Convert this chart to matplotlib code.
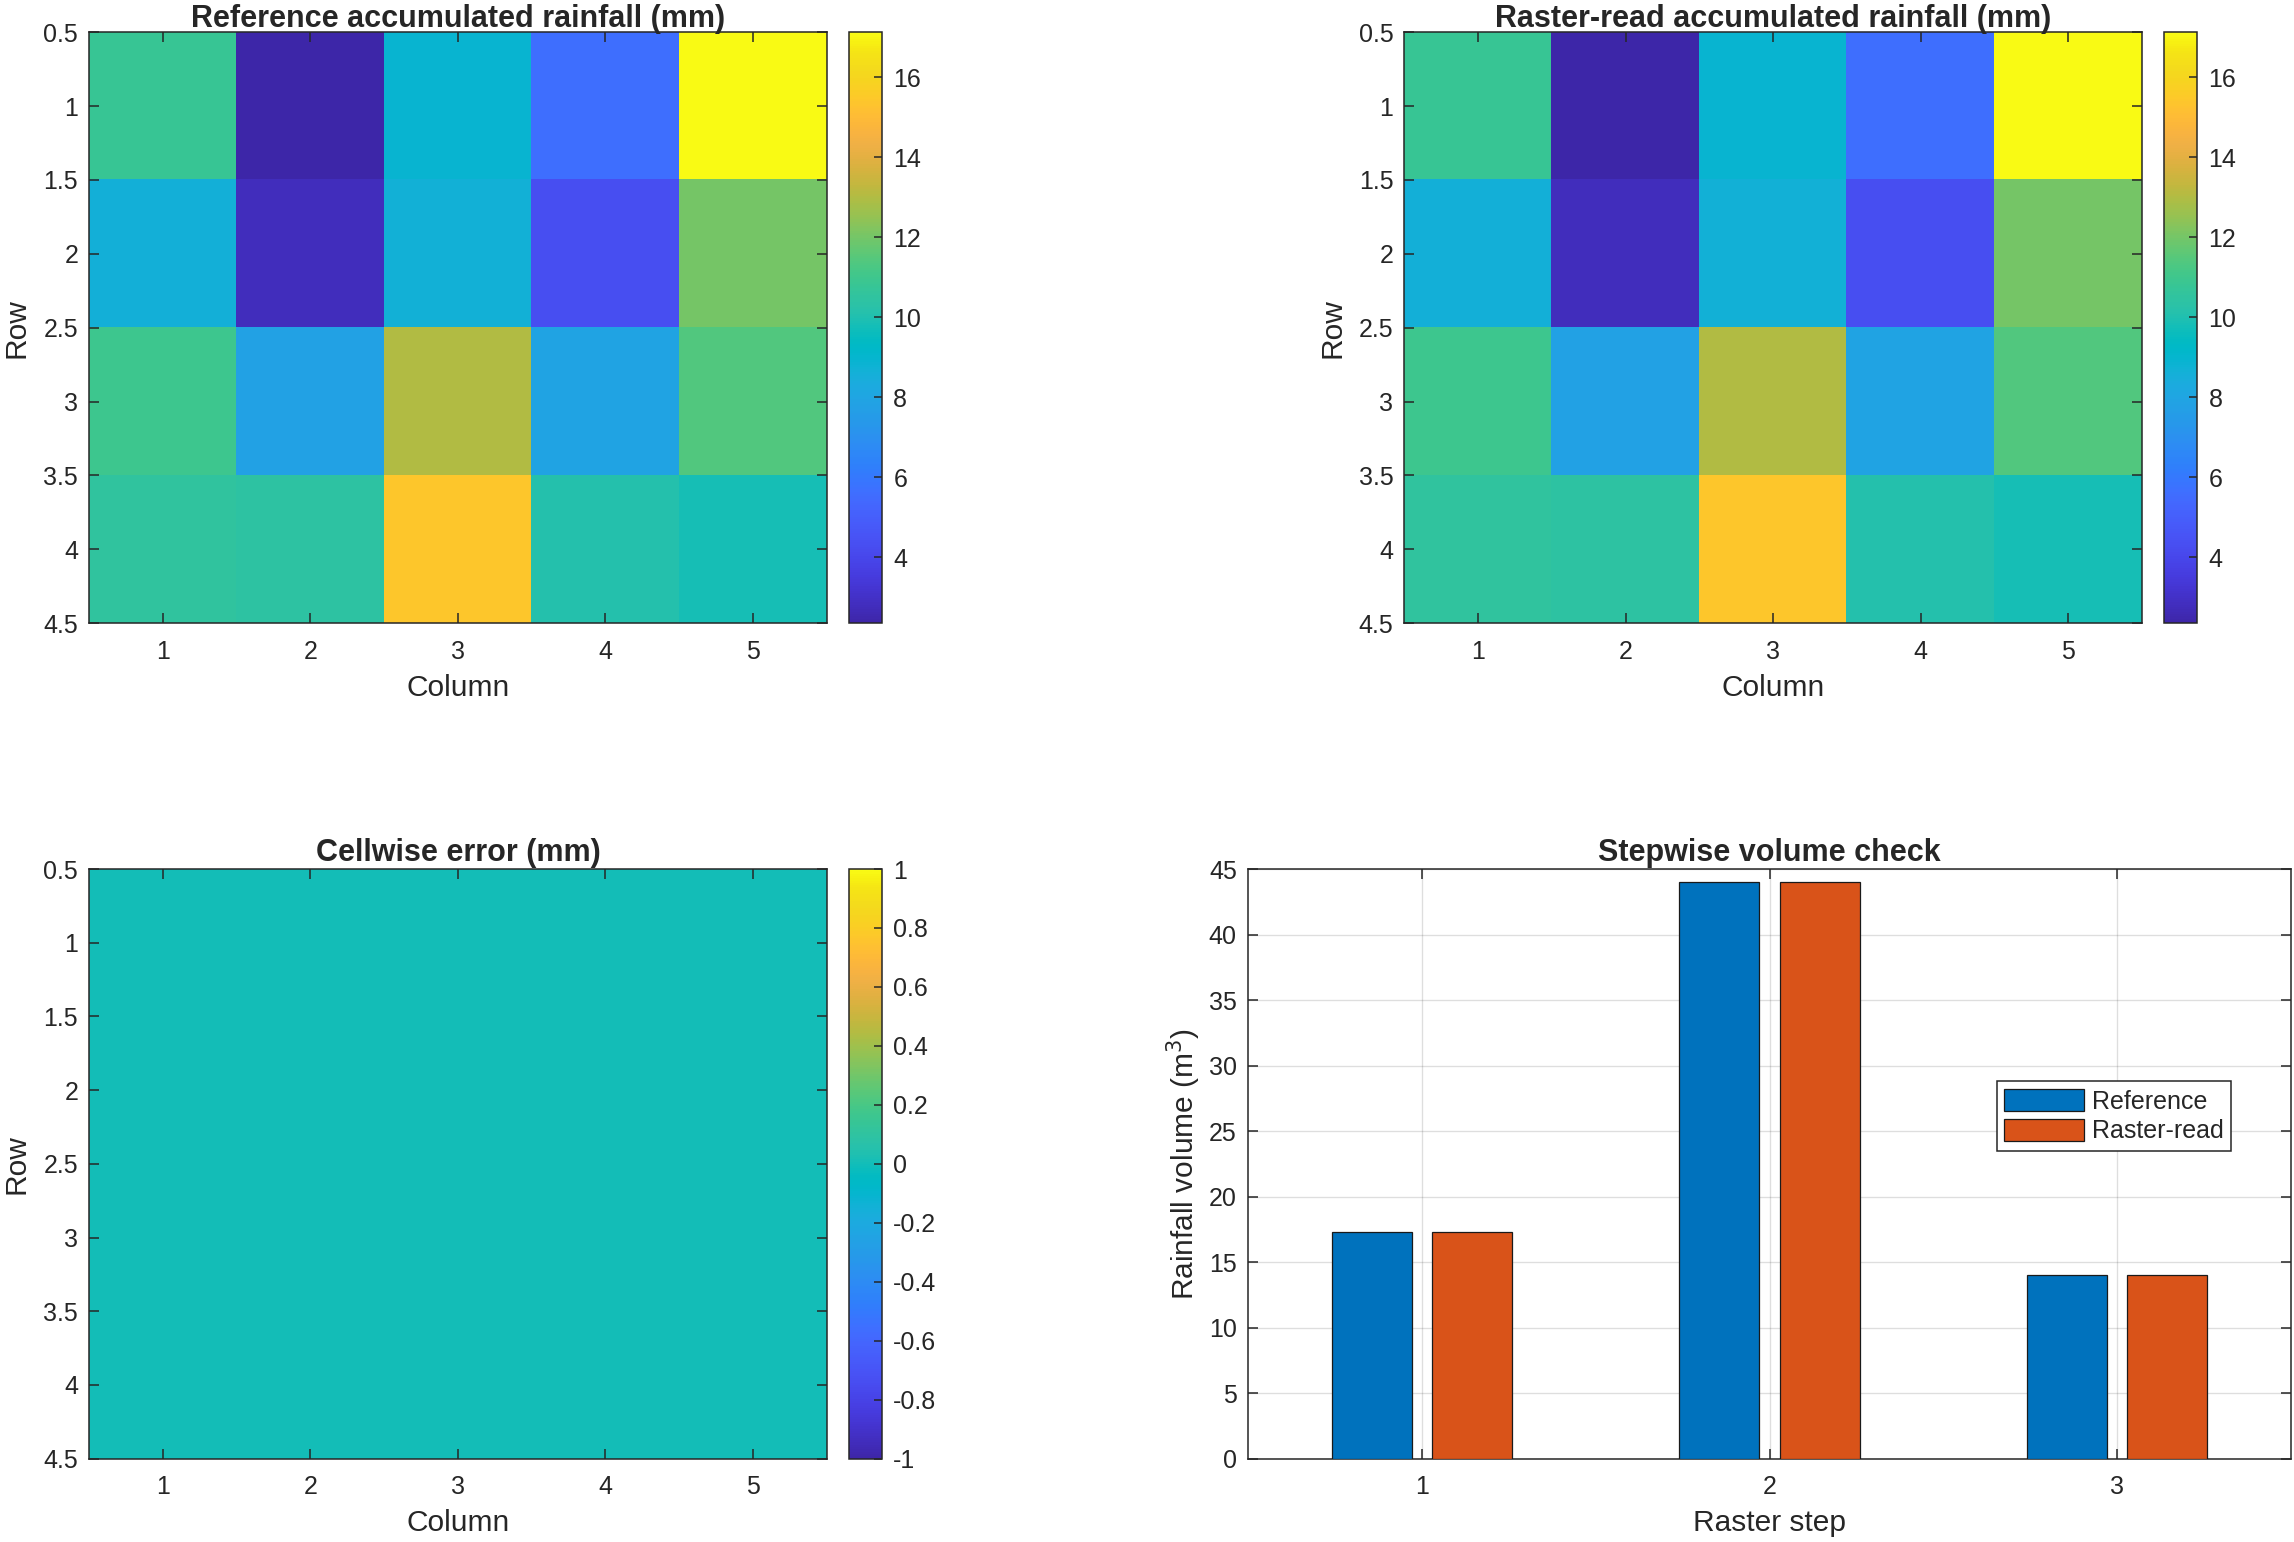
import numpy as np
import matplotlib
matplotlib.use("Agg")
import matplotlib.pyplot as plt
from matplotlib.colors import LinearSegmentedColormap

# ---------------- data ----------------
reference_rain = [
    [10.8, 2.35, 8.9, 5.6, 17.13],
    [8.6, 2.8, 8.7, 4.35, 12.0],
    [11.0, 7.8, 13.0, 7.9, 11.4],
    [10.5, 10.4, 15.4, 10.1, 9.85],
]
raster_rain = [
    [10.8, 2.35, 8.9, 5.6, 17.13],
    [8.6, 2.8, 8.7, 4.35, 12.0],
    [11.0, 7.8, 13.0, 7.9, 11.4],
    [10.5, 10.4, 15.4, 10.1, 9.85],
]
cell_error = [
    [0, 0, 0, 0, 0],
    [0, 0, 0, 0, 0],
    [0, 0, 0, 0, 0],
    [0, 0, 0, 0, 0],
]
steps = [1, 2, 3]
vol_reference = [17.3, 44.0, 14.0]
vol_raster = [17.3, 44.0, 14.0]
series_names = ["Reference", "Raster-read"]

# ---------------- parula colormap ----------------
parula_data = [
    [0.2422, 0.1504, 0.6603], [0.2504, 0.1650, 0.7076], [0.2578, 0.1818, 0.7511],
    [0.2647, 0.1978, 0.7952], [0.2706, 0.2147, 0.8364], [0.2751, 0.2342, 0.8710],
    [0.2783, 0.2559, 0.8991], [0.2803, 0.2782, 0.9221], [0.2813, 0.3006, 0.9414],
    [0.2810, 0.3228, 0.9579], [0.2795, 0.3447, 0.9717], [0.2760, 0.3667, 0.9829],
    [0.2699, 0.3892, 0.9906], [0.2602, 0.4123, 0.9952], [0.2440, 0.4358, 0.9988],
    [0.2206, 0.4603, 0.9973], [0.1963, 0.4847, 0.9892], [0.1834, 0.5074, 0.9798],
    [0.1786, 0.5289, 0.9682], [0.1764, 0.5499, 0.9520], [0.1687, 0.5703, 0.9359],
    [0.1540, 0.5902, 0.9218], [0.1460, 0.6091, 0.9079], [0.1380, 0.6276, 0.8973],
    [0.1248, 0.6459, 0.8883], [0.1113, 0.6635, 0.8763], [0.0952, 0.6798, 0.8598],
    [0.0689, 0.6948, 0.8394], [0.0297, 0.7082, 0.8163], [0.0036, 0.7199, 0.7917],
    [0.0067, 0.7300, 0.7655], [0.0433, 0.7394, 0.7384], [0.0964, 0.7475, 0.7097],
    [0.1408, 0.7543, 0.6795], [0.1717, 0.7607, 0.6489], [0.1938, 0.7673, 0.6174],
    [0.2161, 0.7736, 0.5843], [0.2470, 0.7791, 0.5507], [0.2906, 0.7833, 0.5163],
    [0.3406, 0.7843, 0.4813], [0.3909, 0.7819, 0.4470], [0.4456, 0.7768, 0.4123],
    [0.5044, 0.7711, 0.3760], [0.5616, 0.7647, 0.3386], [0.6174, 0.7556, 0.3037],
    [0.6720, 0.7434, 0.2742], [0.7242, 0.7290, 0.2551], [0.7738, 0.7152, 0.2463],
    [0.8203, 0.7032, 0.2464], [0.8634, 0.6941, 0.2522], [0.9024, 0.6893, 0.2615],
    [0.9359, 0.6910, 0.2705], [0.9646, 0.6968, 0.2587], [0.9831, 0.7120, 0.2359],
    [0.9952, 0.7328, 0.2133], [0.9966, 0.7586, 0.1907], [0.9919, 0.7845, 0.1655],
    [0.9800, 0.8087, 0.1409], [0.9666, 0.8317, 0.1241], [0.9575, 0.8529, 0.1127],
    [0.9596, 0.8740, 0.0993], [0.9617, 0.8951, 0.0824], [0.9690, 0.9390, 0.0700],
    [0.9769, 0.9839, 0.0805],
]
parula = LinearSegmentedColormap.from_list("parula", parula_data, N=256)

plt.rcParams['font.family'] = ['Liberation Sans', 'DejaVu Sans']
TXT = (0.15, 0.15, 0.15)
plt.rcParams['text.color'] = TXT
plt.rcParams['axes.edgecolor'] = TXT
plt.rcParams['xtick.color'] = TXT
plt.rcParams['ytick.color'] = TXT
plt.rcParams['axes.labelcolor'] = TXT

W, H = 2294, 1542
fig = plt.figure(figsize=(W / 100, H / 100), dpi=100)

TICK_FS = 18
LAB_FS = 21.5
TITLE_FS = 22


def style_axes(ax):
    ax.tick_params(direction='in', top=True, right=True, length=7, width=1.1,
                   labelsize=TICK_FS)
    ax.tick_params(axis='x', pad=12)
    ax.tick_params(axis='y', pad=8)
    for s in ax.spines.values():
        s.set_linewidth(1.1)


def heat(ax_rect, cb_rect, data, title, clim, cticks, ctlabels, tpad):
    ax = fig.add_axes(ax_rect)
    arr = np.array(data, dtype=float)
    im = ax.imshow(arr, cmap=parula, vmin=clim[0], vmax=clim[1], aspect='auto',
                   interpolation='nearest',
                   extent=(0.5, arr.shape[1] + 0.5, arr.shape[0] + 0.5, 0.5))
    ax.set_xticks(range(1, arr.shape[1] + 1))
    yt = np.arange(0.5, arr.shape[0] + 0.51, 0.5)
    ax.set_yticks(yt)
    ax.set_yticklabels([('%g' % v) for v in yt])
    style_axes(ax)
    ax.set_xlabel('Column', fontsize=LAB_FS, labelpad=7)
    ax.set_ylabel('Row', fontsize=LAB_FS, labelpad=9)
    ax.set_title(title, fontsize=TITLE_FS, fontweight='bold', pad=tpad)
    cax = fig.add_axes(cb_rect)
    cb = fig.colorbar(im, cax=cax)
    cb.set_ticks(cticks)
    cb.set_ticklabels(ctlabels)
    cax.tick_params(direction='in', length=6, width=1.1, labelsize=TICK_FS, pad=8)
    cb.outline.set_linewidth(1.1)
    return ax


def fx(px):
    return px / 1568.0


def fy(py):
    return 1 - py / 1054.0


vals_all = np.array(reference_rain)
clim_top = (vals_all.min(), vals_all.max())
ct_top = [4, 6, 8, 10, 12, 14, 16]

# top-left
heat([fx(61), fy(426), fx(565) - fx(61), fy(22) - fy(426)],
     [fx(580), fy(426), fx(603) - fx(580), fy(22) - fy(426)],
     reference_rain, 'Reference accumulated rainfall (mm)', clim_top, ct_top,
     [str(v) for v in ct_top], 4)

# top-right
heat([fx(960), fy(426), fx(1464) - fx(960), fy(22) - fy(426)],
     [fx(1479), fy(426), fx(1502) - fx(1479), fy(22) - fy(426)],
     raster_rain, 'Raster-read accumulated rainfall (mm)', clim_top, ct_top,
     [str(v) for v in ct_top], 4)

# bottom-left
ct_err = np.round(np.arange(-1, 1.01, 0.2), 1)
heat([fx(61), fy(997), fx(565) - fx(61), fy(594) - fy(997)],
     [fx(580), fy(997), fx(603) - fx(580), fy(594) - fy(997)],
     cell_error, 'Cellwise error (mm)', (-1, 1), ct_err,
     [('%g' % v) if abs(v) > 1e-9 else '0' for v in ct_err], 6)

# bottom-right bar chart
ax = fig.add_axes([fx(853), fy(997), fx(1566) - fx(853), fy(594) - fy(997)])
x = np.array(steps, dtype=float)
bw = 0.23
off = 0.144
ax.bar(x - off, vol_reference, width=bw, color=(0, 0.447, 0.741),
       edgecolor=(0.1, 0.1, 0.1), linewidth=0.9, label=series_names[0], zorder=3)
ax.bar(x + off, vol_raster, width=bw, color=(0.85, 0.325, 0.098),
       edgecolor=(0.1, 0.1, 0.1), linewidth=0.9, label=series_names[1], zorder=3)
ax.set_xlim(0.5, 3.5)
ax.set_ylim(0, 45)
ax.set_xticks(steps)
ax.set_yticks(range(0, 46, 5))
ax.grid(True, color=(0.15, 0.15, 0.15), alpha=0.15, linewidth=1.0, zorder=0)
ax.set_axisbelow(True)
style_axes(ax)
ax.set_xlabel('Raster step', fontsize=LAB_FS, labelpad=7)
ax.set_ylabel('Rainfall volume (m$^3$)', fontsize=LAB_FS, labelpad=4)
ax.set_title('Stepwise volume check', fontsize=TITLE_FS, fontweight='bold', pad=6)
leg = ax.legend(loc='upper left', bbox_to_anchor=(0.718, 0.64), fontsize=TICK_FS,
                frameon=True, fancybox=False, edgecolor=TXT, framealpha=1,
                handlelength=3.2, handleheight=1.0, handletextpad=0.3,
                borderpad=0.3, labelspacing=0.2, borderaxespad=0)
leg.get_frame().set_linewidth(1.1)

fig.savefig('out.png', dpi=100)
